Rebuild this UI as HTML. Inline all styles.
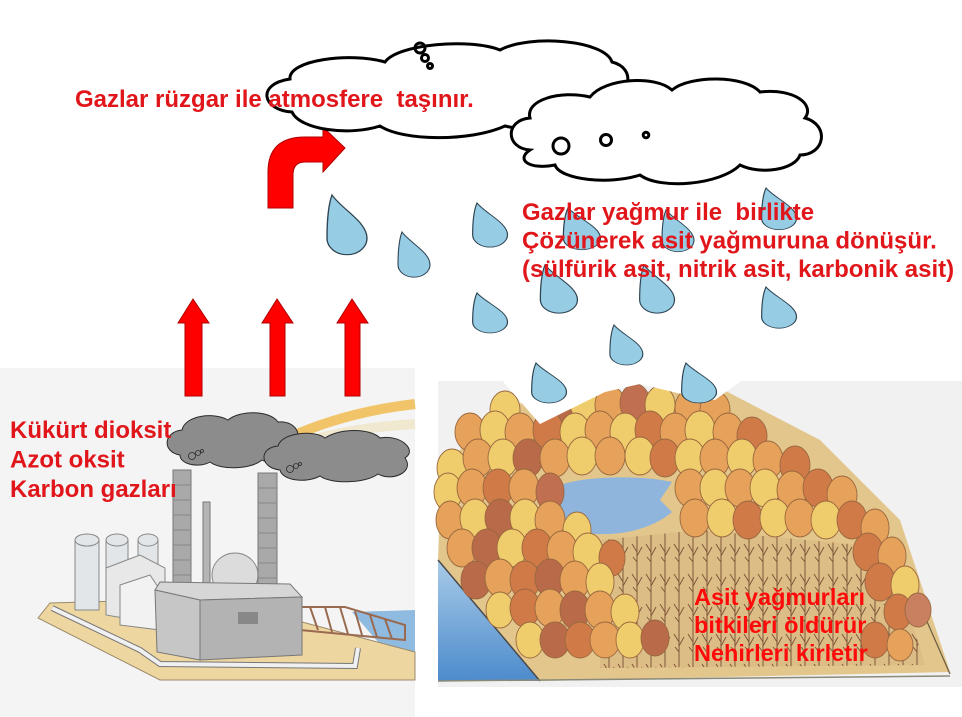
<!DOCTYPE html>
<html>
<head>
<meta charset="utf-8">
<style>
html,body{margin:0;padding:0;background:#fff;}
svg{display:block;}
text{font-family:"Liberation Sans",Arial,sans-serif;font-weight:bold;}
</style>
</head>
<body>
<svg width="962" height="717" viewBox="0 0 962 717" xmlns="http://www.w3.org/2000/svg">
<defs>
  <path id="drop" d="M0,0 C8,14 28,26 28,42 A16,16 0 0 1 -4,42 C-4,28 -3,10 0,0 Z" fill="#96cde4" stroke="#2e4452" stroke-width="1.1"/>
  <pattern id="bare" width="14" height="30" patternUnits="userSpaceOnUse">
    <rect width="14" height="30" fill="#ddbd86"/>
    <path d="M7,30 L7,0 M7,12 L2,4 M7,16 L12,7 M7,22 L3,17" stroke="#80563a" stroke-width="1" fill="none"/>
  </pattern>
  <linearGradient id="water" x1="0" y1="0" x2="0" y2="1">
    <stop offset="0" stop-color="#a9cbe8"/>
    <stop offset="1" stop-color="#4d8bcc"/>
  </linearGradient>
</defs>

<!-- ================= FOREST IMAGE ================= -->
<rect x="438" y="381" width="524" height="306" fill="#f1f1f1"/>
<polygon points="438,560 442,470 500,405 720,388 820,440 900,520 950,672 540,681" fill="#e3c68c"/>
<polygon points="438,560 540,681 438,681" fill="url(#water)"/>
<line x1="438" y1="560" x2="540" y2="681" stroke="#4a4a4a" stroke-width="1.5"/>
<line x1="438" y1="681" x2="950" y2="676" stroke="#8a8a7a" stroke-width="1.5"/>
<line x1="900" y1="560" x2="950" y2="674" stroke="#6a5a40" stroke-width="1.2"/>
<polygon points="600,540 700,530 860,545 905,600 925,665 600,668" fill="url(#bare)"/>

<g stroke="#9a6840" stroke-width="0.9">
  <!-- row y=405 -->
  <ellipse cx="505" cy="410" rx="15" ry="19" fill="#f0cd6c"/>
  <ellipse cx="560" cy="405" rx="15" ry="19" fill="#b96a48"/>
  <ellipse cx="585" cy="403" rx="15" ry="19" fill="#f0cd6c"/>
  <ellipse cx="610" cy="405" rx="15" ry="19" fill="#e6a25a"/>
  <ellipse cx="635" cy="403" rx="15" ry="19" fill="#c07050"/>
  <ellipse cx="660" cy="405" rx="15" ry="19" fill="#f0cd6c"/>
  <ellipse cx="690" cy="408" rx="15" ry="19" fill="#e6a25a"/>
  <ellipse cx="715" cy="410" rx="15" ry="19" fill="#e6a25a"/>
  <!-- row y=430 -->
  <ellipse cx="470" cy="432" rx="15" ry="19" fill="#e6a25a"/>
  <ellipse cx="495" cy="430" rx="15" ry="19" fill="#f0cd6c"/>
  <ellipse cx="520" cy="432" rx="15" ry="19" fill="#e6a25a"/>
  <ellipse cx="548" cy="430" rx="15" ry="19" fill="#d07a48"/>
  <ellipse cx="575" cy="432" rx="15" ry="19" fill="#f0cd6c"/>
  <ellipse cx="600" cy="430" rx="15" ry="19" fill="#e6a25a"/>
  <ellipse cx="625" cy="432" rx="15" ry="19" fill="#f0cd6c"/>
  <ellipse cx="650" cy="430" rx="15" ry="19" fill="#d07a48"/>
  <ellipse cx="675" cy="432" rx="15" ry="19" fill="#e6a25a"/>
  <ellipse cx="700" cy="430" rx="15" ry="19" fill="#f0cd6c"/>
  <ellipse cx="728" cy="432" rx="15" ry="19" fill="#e6a25a"/>
  <ellipse cx="752" cy="436" rx="15" ry="19" fill="#d07a48"/>
  <!-- row y=458 -->
  <ellipse cx="452" cy="468" rx="15" ry="19" fill="#f0cd6c"/>
  <ellipse cx="478" cy="458" rx="15" ry="19" fill="#e6a25a"/>
  <ellipse cx="503" cy="458" rx="15" ry="19" fill="#f0cd6c"/>
  <ellipse cx="528" cy="458" rx="15" ry="19" fill="#b96a48"/>
  <ellipse cx="555" cy="458" rx="15" ry="19" fill="#e6a25a"/>
  <ellipse cx="582" cy="456" rx="15" ry="19" fill="#f0cd6c"/>
  <ellipse cx="610" cy="456" rx="15" ry="19" fill="#e6a25a"/>
  <ellipse cx="640" cy="456" rx="15" ry="19" fill="#f0cd6c"/>
  <ellipse cx="665" cy="458" rx="15" ry="19" fill="#d07a48"/>
  <ellipse cx="690" cy="458" rx="15" ry="19" fill="#f0cd6c"/>
  <ellipse cx="715" cy="458" rx="15" ry="19" fill="#e6a25a"/>
  <ellipse cx="742" cy="458" rx="15" ry="19" fill="#f0cd6c"/>
  <ellipse cx="768" cy="460" rx="15" ry="19" fill="#e6a25a"/>
  <ellipse cx="795" cy="465" rx="15" ry="19" fill="#d07a48"/>
</g>
<!-- pond -->
<path d="M552,490 C565,476 640,474 672,482 L660,500 L672,512 C640,540 575,540 552,520 Z" fill="#8fb5dc"/>
<g stroke="#9a6840" stroke-width="0.9">
  <!-- row y=488 -->
  <ellipse cx="448" cy="492" rx="14" ry="19" fill="#f0cd6c"/>
  <ellipse cx="472" cy="488" rx="15" ry="19" fill="#e6a25a"/>
  <ellipse cx="498" cy="488" rx="15" ry="19" fill="#d07a48"/>
  <ellipse cx="524" cy="488" rx="15" ry="19" fill="#e6a25a"/>
  <ellipse cx="550" cy="492" rx="14" ry="19" fill="#c07050"/>
  <ellipse cx="690" cy="488" rx="15" ry="19" fill="#e6a25a"/>
  <ellipse cx="715" cy="488" rx="15" ry="19" fill="#f0cd6c"/>
  <ellipse cx="740" cy="488" rx="15" ry="19" fill="#e6a25a"/>
  <ellipse cx="765" cy="488" rx="15" ry="19" fill="#f0cd6c"/>
  <ellipse cx="792" cy="490" rx="15" ry="19" fill="#e6a25a"/>
  <ellipse cx="818" cy="488" rx="15" ry="19" fill="#d07a48"/>
  <ellipse cx="842" cy="495" rx="15" ry="19" fill="#e6a25a"/>
  <!-- row y=518 -->
  <ellipse cx="450" cy="520" rx="14" ry="19" fill="#e6a25a"/>
  <ellipse cx="475" cy="518" rx="15" ry="19" fill="#f0cd6c"/>
  <ellipse cx="500" cy="518" rx="15" ry="19" fill="#b96a48"/>
  <ellipse cx="525" cy="518" rx="15" ry="19" fill="#f0cd6c"/>
  <ellipse cx="550" cy="520" rx="15" ry="19" fill="#e6a25a"/>
  <ellipse cx="577" cy="530" rx="14" ry="18" fill="#f0cd6c"/>
  <ellipse cx="695" cy="518" rx="15" ry="19" fill="#e6a25a"/>
  <ellipse cx="722" cy="518" rx="15" ry="19" fill="#f0cd6c"/>
  <ellipse cx="748" cy="520" rx="15" ry="19" fill="#d07a48"/>
  <ellipse cx="775" cy="518" rx="15" ry="19" fill="#f0cd6c"/>
  <ellipse cx="800" cy="518" rx="15" ry="19" fill="#e6a25a"/>
  <ellipse cx="826" cy="520" rx="15" ry="19" fill="#f0cd6c"/>
  <ellipse cx="852" cy="520" rx="15" ry="19" fill="#d07a48"/>
  <ellipse cx="875" cy="528" rx="14" ry="19" fill="#e6a25a"/>
  <!-- row y=548 -->
  <ellipse cx="462" cy="548" rx="15" ry="19" fill="#e6a25a"/>
  <ellipse cx="487" cy="548" rx="15" ry="19" fill="#b96a48"/>
  <ellipse cx="512" cy="548" rx="15" ry="19" fill="#f0cd6c"/>
  <ellipse cx="537" cy="548" rx="15" ry="19" fill="#d07a48"/>
  <ellipse cx="562" cy="550" rx="15" ry="19" fill="#e6a25a"/>
  <ellipse cx="588" cy="552" rx="15" ry="19" fill="#f0cd6c"/>
  <ellipse cx="612" cy="558" rx="13" ry="18" fill="#d07a48"/>
  <ellipse cx="868" cy="552" rx="15" ry="19" fill="#d07a48"/>
  <ellipse cx="892" cy="556" rx="14" ry="19" fill="#e6a25a"/>
  <!-- row y=578 -->
  <ellipse cx="476" cy="580" rx="15" ry="19" fill="#b96a48"/>
  <ellipse cx="500" cy="578" rx="15" ry="19" fill="#e6a25a"/>
  <ellipse cx="525" cy="580" rx="15" ry="19" fill="#d07a48"/>
  <ellipse cx="550" cy="578" rx="15" ry="19" fill="#b96a48"/>
  <ellipse cx="575" cy="580" rx="15" ry="19" fill="#e6a25a"/>
  <ellipse cx="600" cy="582" rx="14" ry="19" fill="#f0cd6c"/>
  <ellipse cx="880" cy="582" rx="15" ry="19" fill="#d07a48"/>
  <ellipse cx="905" cy="585" rx="14" ry="19" fill="#f0cd6c"/>
  <!-- row y=608 -->
  <ellipse cx="500" cy="610" rx="14" ry="18" fill="#f0cd6c"/>
  <ellipse cx="525" cy="608" rx="15" ry="19" fill="#d07a48"/>
  <ellipse cx="550" cy="608" rx="15" ry="19" fill="#e6a25a"/>
  <ellipse cx="575" cy="610" rx="15" ry="19" fill="#b96a48"/>
  <ellipse cx="600" cy="610" rx="15" ry="19" fill="#e6a25a"/>
  <ellipse cx="625" cy="612" rx="14" ry="18" fill="#f0cd6c"/>
  <ellipse cx="898" cy="612" rx="14" ry="18" fill="#d07a48"/>
  <ellipse cx="918" cy="610" rx="13" ry="17" fill="#c98060"/>
  <!-- row y=638 -->
  <ellipse cx="530" cy="640" rx="14" ry="18" fill="#f0cd6c"/>
  <ellipse cx="555" cy="640" rx="15" ry="18" fill="#b96a48"/>
  <ellipse cx="580" cy="640" rx="15" ry="18" fill="#d07a48"/>
  <ellipse cx="605" cy="640" rx="15" ry="18" fill="#e6a25a"/>
  <ellipse cx="630" cy="640" rx="14" ry="18" fill="#f0cd6c"/>
  <ellipse cx="655" cy="638" rx="14" ry="18" fill="#b96a48"/>
  <ellipse cx="875" cy="640" rx="14" ry="18" fill="#d07a48"/>
  <ellipse cx="900" cy="645" rx="13" ry="16" fill="#e6a25a"/>
</g>
<!-- white clip from drop images -->
<polygon points="500,378 540,424 605,392 640,384 690,396 715,400 745,378" fill="#ffffff"/>

<!-- ================= FACTORY IMAGE ================= -->
<rect x="0" y="368" width="415" height="349" fill="#f4f4f4"/>
<path d="M288,438 Q345,412 415,404" fill="none" stroke="#f2c46a" stroke-width="10"/>
<path d="M292,446 Q345,428 415,424" fill="none" stroke="#efe0b8" stroke-width="10" opacity="0.6"/>
<polygon points="352,612 415,610 415,665 385,650" fill="#8fbbe0"/>
<polygon points="38,618 50,603 155,600 302,622 415,652 415,680 160,680" fill="#eed6a0" stroke="#9a8a6a" stroke-width="1"/>
<polyline points="52,608 140,650 160,664 355,666 358,648" fill="none" stroke="#777" stroke-width="6"/>
<polyline points="52,608 140,650 160,664 355,666 358,648" fill="none" stroke="#f0f0f0" stroke-width="4"/>
<g stroke="#9a6a50" stroke-width="2" fill="none">
  <polyline points="300,607 345,607 405,625 405,640 300,630 Z"/>
  <path d="M310,607 L318,630 M325,607 L332,632 M340,607 L348,634 M355,611 L362,635 M370,615 L377,637 M385,619 L392,639"/>
</g>
<g fill="#e2e6e8" stroke="#888" stroke-width="1">
  <rect x="75" y="540" width="24" height="70"/>
  <ellipse cx="87" cy="540" rx="12" ry="6"/>
  <rect x="106" y="540" width="22" height="50"/>
  <ellipse cx="117" cy="540" rx="11" ry="6"/>
  <rect x="138" y="540" width="20" height="35"/>
  <ellipse cx="148" cy="540" rx="10" ry="6"/>
</g>
<polygon points="106,568 140,555 165,568 165,625 106,615" fill="#e8e8e8" stroke="#888" stroke-width="1"/>
<polygon points="120,585 150,575 160,590 160,630 120,625" fill="#f2f2f2" stroke="#888" stroke-width="1"/>
<ellipse cx="235" cy="575" rx="23" ry="22" fill="#dcdcdc" stroke="#888" stroke-width="1"/>
<g stroke="#777" stroke-width="1">
  <rect x="173" y="470" width="18" height="122" fill="#a9a9a9"/>
  <rect x="258" y="473" width="19" height="120" fill="#a9a9a9"/>
  <rect x="203" y="502" width="7" height="88" fill="#b5b5b5"/>
</g>
<g stroke="#888" stroke-width="1">
  <path d="M173,485 H191 M173,500 H191 M173,515 H191 M173,530 H191 M173,545 H191 M173,560 H191 M173,575 H191"/>
  <path d="M258,488 H277 M258,503 H277 M258,518 H277 M258,533 H277 M258,548 H277 M258,563 H277 M258,578 H277"/>
</g>
<polygon points="155,590 160,582 290,584 302,597 200,600" fill="#d6d6d6" stroke="#777" stroke-width="1"/>
<polygon points="155,590 200,600 200,660 157,652" fill="#c6c6c6" stroke="#777" stroke-width="1"/>
<polygon points="200,600 302,597 302,655 200,660" fill="#b3b3b3" stroke="#777" stroke-width="1"/>
<rect x="238" y="612" width="20" height="12" fill="#888"/>
<path d="M180,455 C162,452 163,432 182,430 C185,415 215,412 228,420 C240,410 270,410 278,422 C298,420 305,440 290,447 C298,460 275,468 262,460 C250,470 220,470 210,462 C200,468 180,465 180,455 Z" fill="#8c8c8c" stroke="#2a2a2a" stroke-width="1"/>
<path d="M280,470 C260,468 258,448 278,446 C282,432 315,430 325,438 C340,428 370,428 380,438 C400,434 418,450 405,458 C415,472 392,482 378,474 C365,484 330,484 320,476 C305,484 282,480 280,470 Z" fill="#8c8c8c" stroke="#2a2a2a" stroke-width="1"/>
<g fill="#8c8c8c" stroke="#2a2a2a" stroke-width="0.8">
  <circle cx="192" cy="456" r="3.5"/><circle cx="198" cy="453" r="2.5"/><circle cx="202" cy="451" r="1.5"/>
  <circle cx="290" cy="469" r="3.5"/><circle cx="296" cy="466" r="2.5"/><circle cx="300" cy="464" r="1.5"/>
</g>

<g fill="#ff0000" stroke="#b00000" stroke-width="1">
  <polygon points="193,299 209,323 202,323 202,396 185,396 185,323 178,323"/>
  <polygon points="277,299 293,323 285,323 285,396 270,396 270,323 262,323"/>
  <polygon points="352,299 368,323 360,323 360,396 345,396 345,323 337,323"/>
  <path d="M268,208 L268,172 Q268,137 305,137 L323,137 L323,127 L345,148 L323,172 L323,162 L305,162 Q293,162 293,175 L293,208 Z"/>
</g>

<!-- ================= CLOUDS ================= -->
<path d="M292,112 C262,110 256,84 290,79 C288,60 350,52 385,62 C398,44 470,38 500,50 C530,34 605,40 612,62 C636,68 632,95 605,102 C606,125 545,136 505,126 C470,142 402,141 380,126 C350,136 300,130 292,112 Z" fill="#ffffff" stroke="#000" stroke-width="3"/>
<g fill="none" stroke="#000" stroke-width="3">
  <circle cx="420" cy="48" r="5"/>
  <circle cx="425" cy="58" r="3.5"/>
  <circle cx="430" cy="66" r="2.5"/>
</g>
<path d="M530,150 C505,148 505,120 530,118 C525,100 560,90 590,97 C605,78 655,75 672,90 C690,75 745,75 760,92 C795,88 815,105 805,118 C830,125 825,155 800,155 C795,170 760,175 740,165 C720,185 660,190 640,175 C610,185 560,180 555,165 C530,170 515,160 530,150 Z" fill="#ffffff" stroke="#000" stroke-width="3"/>
<g fill="none" stroke="#000" stroke-width="3">
  <circle cx="561" cy="146" r="8"/>
  <circle cx="606" cy="140" r="5.5"/>
  <circle cx="646" cy="135" r="2.8"/>
</g>

<!-- ================= RAIN DROPS ================= -->
<use href="#drop" transform="translate(332,195) scale(1.25,1.03)"/>
<use href="#drop" transform="translate(402,232) scale(1,0.78)"/>
<use href="#drop" transform="translate(477,203) scale(1.09,0.76)"/>
<use href="#drop" transform="translate(568,208) scale(1.16,0.72)"/>
<use href="#drop" transform="translate(666,210) scale(1,0.72)"/>
<use href="#drop" transform="translate(766,188) scale(1.09,0.72)"/>
<use href="#drop" transform="translate(545,265) scale(1.16,0.83)"/>
<use href="#drop" transform="translate(644,265) scale(1.09,0.83)"/>
<use href="#drop" transform="translate(766,287) scale(1.09,0.71)"/>
<use href="#drop" transform="translate(477,293) scale(1.09,0.69)"/>
<use href="#drop" transform="translate(614,325) scale(1.03,0.69)"/>
<use href="#drop" transform="translate(536,363) scale(1.09,0.69)"/>
<use href="#drop" transform="translate(686,363) scale(1.09,0.69)"/>

<!-- ================= TEXT ================= -->
<text x="75" y="107" font-size="24" fill="#e0161b" xml:space="preserve">Gazlar rüzgar ile atmosfere  taşınır.</text>
<g font-size="24" fill="#e0161b">
  <text x="522" y="220" xml:space="preserve">Gazlar yağmur ile  birlikte</text>
  <text x="522" y="248.5">Çözünerek asit yağmuruna dönüşür.</text>
  <text x="522" y="277">(sülfürik asit, nitrik asit, karbonik asit)</text>
</g>
<g font-size="24" fill="#e0161b">
  <text x="10" y="438">Kükürt dioksit</text>
  <text x="10" y="467.5">Azot oksit</text>
  <text x="10" y="497">Karbon gazları</text>
</g>
<g font-size="23.5" fill="#ff0a0a">
  <text x="694" y="605">Asit yağmurları</text>
  <text x="694" y="633">bitkileri öldürür</text>
  <text x="694" y="661">Nehirleri kirletir</text>
</g>
</svg>
</body>
</html>
